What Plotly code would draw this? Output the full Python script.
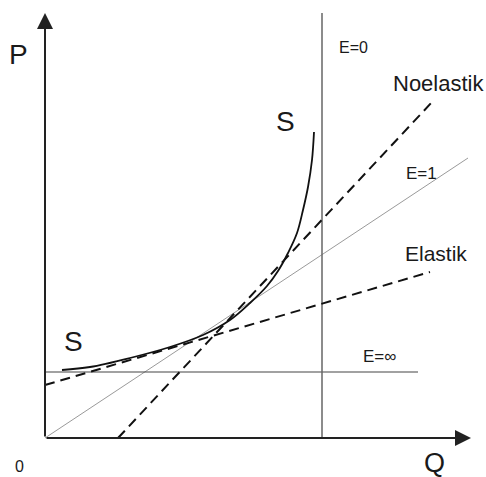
import plotly.graph_objects as go

# Supply curve S (Q, P)
s_q = [17, 45, 85, 125, 158, 185, 205, 222, 233, 243, 252, 258, 263, 267, 269]
s_p = [68, 71, 80, 91, 103, 118, 135, 152, 167, 185, 205, 228, 251, 278, 306]

# Reference lines
e0_q = [277, 277]
e0_p = [0, 425]
einf_q = [0, 373]
einf_p = [66, 66]
e1_q = [0, 423]
e1_p = [0, 280]
inel_q = [73, 388]
inel_p = [0, 337]
el_q = [0, 385]
el_p = [53, 166]

FONT = "Liberation Sans, Arial, sans-serif"
TXT = "#1a1a1a"

fig = go.Figure()
fig.add_trace(go.Scatter(x=e1_q, y=e1_p, mode="lines",
                         line=dict(color="#9a9a9a", width=1)))
fig.add_trace(go.Scatter(x=einf_q, y=einf_p, mode="lines",
                         line=dict(color="#444444", width=1.2)))
fig.add_trace(go.Scatter(x=e0_q, y=e0_p, mode="lines",
                         line=dict(color="#666666", width=1.5)))
fig.add_trace(go.Scatter(x=inel_q, y=inel_p, mode="lines",
                         line=dict(color="#111111", width=2, dash="10px,6px")))
fig.add_trace(go.Scatter(x=el_q, y=el_p, mode="lines",
                         line=dict(color="#111111", width=2, dash="10px,6px")))
fig.add_trace(go.Scatter(x=s_q, y=s_p, mode="lines", line_shape="spline",
                         line=dict(color="#111111", width=1.8, smoothing=1.0)))

# Axes with arrows
for tip, tail in [((0, 425), (0, 0)), ((426, 0), (0, 0))]:
    fig.add_annotation(x=tip[0], y=tip[1], ax=tail[0], ay=tail[1],
                       xref="x", yref="y", axref="x", ayref="y",
                       text="", showarrow=True, arrowhead=2, arrowsize=1.6,
                       arrowwidth=2, arrowcolor="#222222", standoff=0)

labels = [
    ("P", -27, 384, 28),
    ("Q", 389, -25, 27),
    ("0", -26, -28, 16),
    ("S", 240, 317, 28),
    ("S", 28, 97, 28),
    ("E=0", 308, 391, 16),
    ("Noelastik", 393, 355, 22),
    ("E=1", 376, 265, 17),
    ("Elastik", 391, 185, 21),
    ("E=\u221e", 334, 82, 17),
]
for t, x, y, s in labels:
    fig.add_annotation(x=x, y=y, xref="x", yref="y", text=t, showarrow=False,
                       font=dict(family=FONT, size=s, color=TXT),
                       xanchor="center", yanchor="middle")

fig.update_xaxes(range=[-45, 441], visible=False, showgrid=False, zeroline=False)
fig.update_yaxes(range=[-39, 438], visible=False, showgrid=False, zeroline=False)
fig.update_layout(width=486, height=477, margin=dict(l=0, r=0, t=0, b=0),
                  plot_bgcolor="white", paper_bgcolor="white", showlegend=False)
fig.write_html("out.html", config={"displayModeBar": False},
               post_script="document.body.style.margin='0';document.body.style.padding='0';document.body.style.overflow='hidden';")
